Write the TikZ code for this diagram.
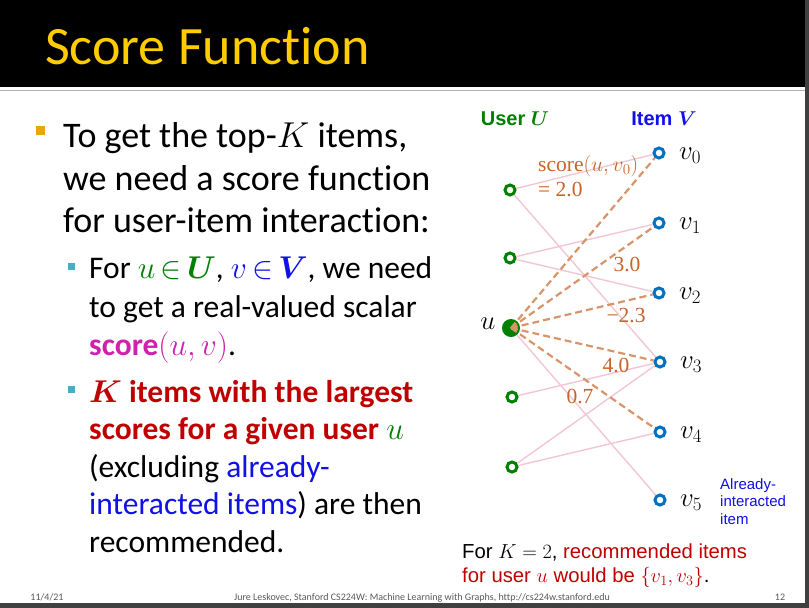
\RequirePackage{fix-cm}
\documentclass[tikz,border=0pt]{standalone}
\usepackage{amsmath,bm}
\usepackage{fontspec}
\setmainfont{Carlito}[Ligatures=NoCommon]
\newfontfamily\arialf{Liberation Sans}
\newfontfamily\timesf{Liberation Serif}
\definecolor{titley}{HTML}{FFCC00}
\definecolor{ugreen}{HTML}{008000}
\definecolor{vblue}{HTML}{0070C0}
\definecolor{pureblue}{HTML}{1010E8}
\definecolor{darkred}{HTML}{C00000}
\definecolor{magen}{HTML}{D020B0}
\definecolor{pinkedge}{HTML}{F3C6D6}
\definecolor{dashor}{HTML}{D9956A}
\definecolor{labor}{HTML}{C86428}
\definecolor{bulor}{HTML}{E8A800}
\definecolor{bulblue}{HTML}{4BACC6}
\definecolor{darkbar}{HTML}{404040}
\definecolor{footg}{HTML}{595959}
\tikzset{
  body/.style={anchor=base west, inner sep=0pt, font=\fontsize{36}{36}\selectfont},
  subbody/.style={anchor=base west, inner sep=0pt, font=\fontsize{31.5}{31.5}\selectfont},
  unode/.style={circle, draw=ugreen, line width=3pt, minimum size=10pt, inner sep=0pt, fill=white},
  vnode/.style={circle, draw=vblue, line width=3pt, minimum size=10pt, inner sep=0pt, fill=white},
  pinkline/.style={draw=pinkedge, line width=1.4pt},
  dashline/.style={draw=dashor, line width=2.2pt, dash pattern=on 7pt off 4pt},
  lab/.style={text=labor, inner sep=0pt, font=\timesf\fontsize{21.5}{21.5}\selectfont},
  vlab/.style={anchor=west, inner sep=0pt, font=\fontsize{27}{27}\selectfont},
  foot/.style={text=footg, inner sep=0pt, anchor=base, font=\fontsize{10}{10}\selectfont},
  bottomtext/.style={anchor=base west, inner sep=0pt, font=\arialf\fontsize{20.3}{20.3}\selectfont}
}
\begin{document}
\begin{tikzpicture}[x=1pt,y=-1pt]
\useasboundingbox (0,0) rectangle (809,608);
\fill[white] (0,0) rectangle (809,608);
\fill[black] (0,0) rectangle (809,87);
\draw[gray!60, line width=1.5pt] (0,90.5) -- (806,90.5);
\fill[darkbar] (805,0) rectangle (809,608);
\fill[darkbar] (0,603) rectangle (809,608);

\node[anchor=base west, inner sep=0pt, text=titley, font=\fontsize{54}{54}\selectfont] (title) at (45,64) {Score Function};

% bullets
\fill[bulor] (36,126) rectangle (45,135);
\fill[bulblue] (68,263) rectangle (75,270);
\fill[bulblue] (68,386) rectangle (75,393);

\node[body] (l1) at (63,147) {To get the top-$K$ items,};
\node[body] (l2) at (63,190) {we need a score function};
\node[body] (l3) at (63,232) {for user-item interaction:};

\node[subbody] (s1) at (89,278) {\thickmuskip=3mu For {\color{ugreen}$u\in\bm{U}$}, {\color{pureblue}$v\in\bm{V}$}, we need};
\node[subbody] (s2) at (89,317) {to get a real-valued scalar};
\node[subbody] (s3) at (89,355) {{\color{magen}\textbf{score}$(u,v)$}.};
\node[subbody, text=darkred] (s4) at (89,402) {$\bm{K}$ \textbf{items with the largest}};
\node[subbody, text=darkred] (s5) at (89,439) {\textbf{scores for a given user} {\color{ugreen}$u$}};
\node[subbody] (s6) at (89,477) {(excluding {\color{pureblue}already-}};
\node[subbody] (s7) at (89,514) {{\color{pureblue}interacted items}) are then};
\node[subbody] (s8) at (89,552) {recommended.};

% footer
\node[foot] (f1) at (47,600) {11/4/21};
\node[foot] (f2) at (422,600) {Jure Leskovec, Stanford CS224W: Machine Learning with Graphs, http://cs224w.stanford.edu};
\node[foot] (f3) at (780,600) {12};

% diagram headers
\node[inner sep=0pt, text=ugreen, font=\arialf\bfseries\fontsize{20}{20}\selectfont] (uh) at (515,119) {User $\bm{U}$};
\node[inner sep=0pt, text=pureblue, font=\arialf\bfseries\fontsize{20}{20}\selectfont] (vh) at (664,119) {Item $\bm{V}$};

% nodes
\node[unode] (u1) at (510,190) {};
\node[unode] (u2) at (510,258) {};
\node[circle, fill=ugreen, minimum size=18pt, inner sep=0pt] (u) at (511,328) {};
\node[unode] (u4) at (512,397) {};
\node[unode] (u5) at (512,467) {};

\node[vnode] (v0) at (659,153) {};
\node[vnode] (v1) at (659,223) {};
\node[vnode] (v2) at (659,293) {};
\node[vnode] (v3) at (660,362) {};
\node[vnode] (v4) at (660,432) {};
\node[vnode] (v5) at (660,500) {};

% pink edges
\draw[pinkline] (u1) -- (v0);
\draw[pinkline] (u1) -- (v3);
\draw[pinkline] (u2) -- (v1);
\draw[pinkline] (u2) -- (v2);
\draw[pinkline] (u) -- (v5);
\draw[pinkline] (u4) -- (v3);
\draw[pinkline] (u5) -- (v3);
\draw[pinkline] (u5) -- (v4);

% dashed score edges
\draw[dashline] (u.center) -- (v0);
\draw[dashline] (u.center) -- (v1);
\draw[dashline] (u.center) -- (v2);
\draw[dashline] (u.center) -- (v3);
\draw[dashline] (u.center) -- (v4);

% labels
\node[inner sep=0pt, font=\fontsize{27}{27}\selectfont] (ul) at (488,324) {$u$};
\node[vlab] (v0l) at (679,156) {$v_0$};
\node[vlab] (v1l) at (679,226) {$v_1$};
\node[vlab] (v2l) at (679,296) {$v_2$};
\node[vlab] (v3l) at (680,365) {$v_3$};
\node[vlab] (v4l) at (680,435) {$v_4$};
\node[vlab] (v5l) at (680,503) {$v_5$};

\node[lab, anchor=west] (sc1) at (538,166) {score$(u,v_0)$};
\node[lab, anchor=west] (sc2) at (538,190) {= 2.0};
\node[lab] (sc3) at (627,264) {3.0};
\node[lab] (sc4) at (626,316) {−2.3};
\node[lab] (sc5) at (616,365) {4.0};
\node[lab] (sc6) at (580,396) {0.7};

\node[anchor=north west, inner sep=0pt, text=pureblue, align=left, font=\arialf\fontsize{15}{17.5}\selectfont] (ai) at (720,478) {Already-\\interacted\\item};

\node[bottomtext] (bt1) at (462,558) {For $K=2$, {\color{darkred}recommended items}};
\node[bottomtext, text=darkred] (bt2) at (462,582) {for user $u$ would be $\{v_1,v_3\}${\color{black}.}};
\end{tikzpicture}
\end{document}
